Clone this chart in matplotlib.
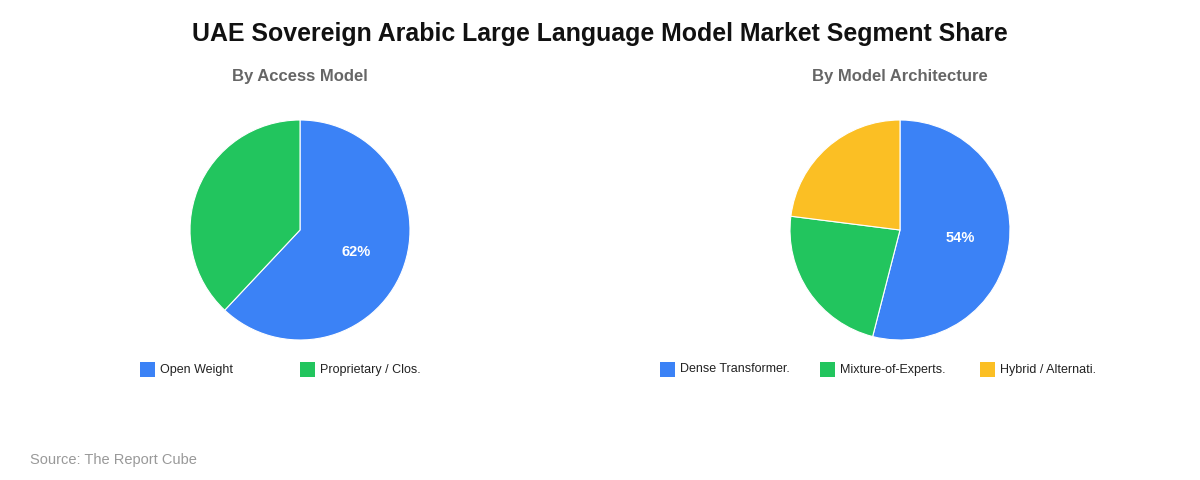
import matplotlib.pyplot as plt
from matplotlib.patches import Rectangle

plt.rcParams['font.family'] = ['Liberation Sans', 'DejaVu Sans']

# Data
access_labels = ['Open Weight', 'Proprietary / Clos.']
access_values = [62, 38]
arch_labels = ['Dense Transformer.', 'Mixture-of-Experts.', 'Hybrid / Alternati.']
arch_values = [54, 23, 23]

colors = ['#3b82f6', '#22c55e', '#fbbf24']

W, H = 1200, 480
fig = plt.figure(figsize=(W / 100, H / 100), dpi=100)
fig.patch.set_facecolor('white')

fig.text(0.5, 1 - 34 / H, 'UAE Sovereign Arabic Large Language Model Market Segment Share',
         ha='center', va='center', fontsize=17.9, fontweight='bold', color='#111111')


def draw_pie(cx, title, labels, values, legend_x0):
    r = 110
    ax = fig.add_axes([(cx - r) / W, (H - 230 - r) / H, 2 * r / W, 2 * r / H])
    wedges, texts, autotexts = ax.pie(
        values, colors=colors[:len(values)], startangle=90, counterclock=False,
        autopct=lambda p: f'{p:.0f}%' if p > 50 else '', pctdistance=0.55,
        wedgeprops=dict(edgecolor='white', linewidth=0.8))
    for t in autotexts:
        t.set_color('white')
        t.set_fontsize(10.5)
        t.set_fontweight('bold')
    ax.set_xlim(-1, 1)
    ax.set_ylim(-1, 1)
    ax.set_aspect('equal')

    fig.text(cx / W, 1 - 77 / H, title, ha='center', va='center',
             fontsize=12, fontweight='bold', color='#666666')

    # legend
    for i, lab in enumerate(labels):
        x = legend_x0 + i * 160
        fig.patches.append(Rectangle((x / W, (H - 377) / H), 15 / W, 15 / H,
                                     transform=fig.transFigure,
                                     facecolor=colors[i], edgecolor='none'))
        fig.text((x + 20) / W, 1 - 369.5 / H, lab, ha='left', va='center',
                 fontsize=9, color='#222222')


draw_pie(300, 'By Access Model', access_labels, access_values, 140)
draw_pie(900, 'By Model Architecture', arch_labels, arch_values, 660)

fig.text(30 / W, 1 - 460 / H, 'Source: The Report Cube', ha='left', va='center',
         fontsize=10.5, color='#999999')

fig.savefig('out.png', dpi=100, facecolor='white')
